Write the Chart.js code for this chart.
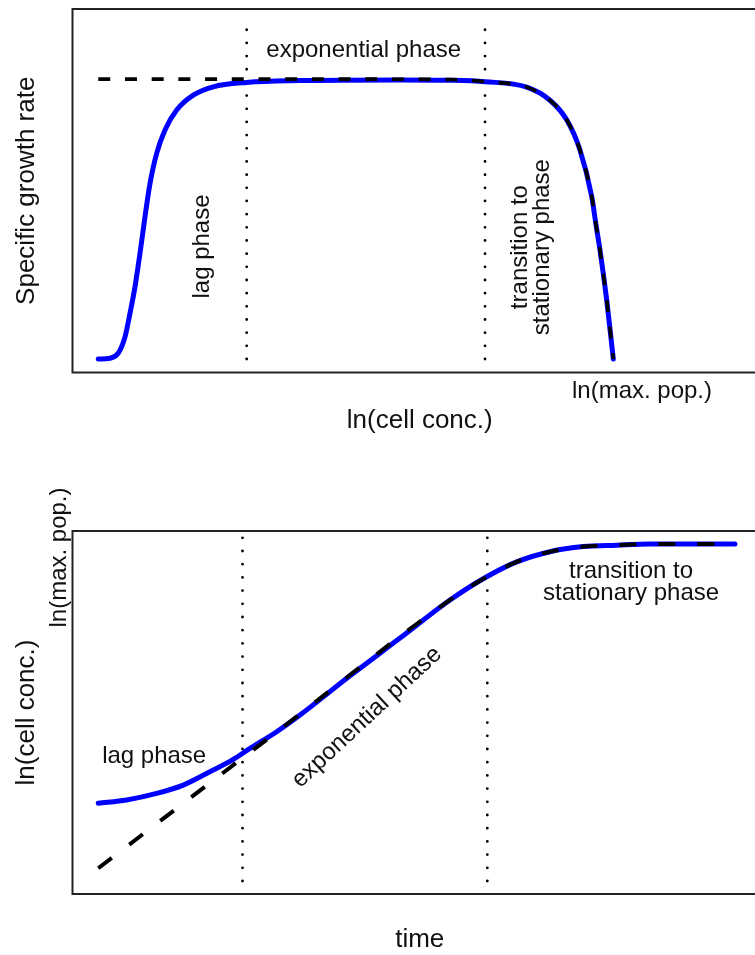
<!DOCTYPE html>
<html lang="en">
<head>
    <meta charset="UTF-8">
    <title>Bacterial growth phases</title>
    <style>
        body {
            margin: 0;
            background: white;
            overflow: hidden;
            font-family: "Liberation Sans", Arial, sans-serif;
        }
        #wrap {
            position: relative;
            width: 755px;
            height: 955px;
            overflow: hidden;
        }
        canvas {
            position: absolute;
            left: 0;
        }
        #rateChart { top: 0; }
        #concChart { top: 460px; }
    </style>
</head>
<body>
    <div id="wrap">
        <canvas id="rateChart" width="770" height="460"></canvas>
        <canvas id="concChart" width="770" height="495"></canvas>
    </div>

    <script src="https://cdn.jsdelivr.net/npm/chart.js"></script>
    <script>
        // top panel: specific growth rate vs ln(cell conc.), both axes in arbitrary units 0..100
        const rateX = [3.71, 5.40, 6.59, 7.56, 8.28, 9.00, 9.72, 10.44, 11.16, 12.12, 13.32, 15.00, 17.39, 20.27, 25.08, 32.76, 47.16, 54.36, 59.40, 65.40, 68.75, 71.16, 73.07, 74.76, 75.38, 75.95, 76.92, 77.87];
        const rateY = [3.7, 3.9, 5.3, 9.8, 16.3, 23.6, 32.8, 42.9, 52.0, 60.3, 66.7, 72.2, 76.3, 78.6, 79.8, 80.3, 80.5, 80.4, 80.0, 78.5, 74.9, 69.5, 61.2, 48.4, 40.6, 33.7, 19.9, 3.7];
        const rateModelX = [3.71, 20, 40, 54.36, 59.40, 65.40, 68.75, 71.16, 73.07, 74.76, 75.38, 75.95, 76.92, 77.87];
        const rateModelY = [80.7, 80.7, 80.7, 80.6, 80.0, 78.5, 74.9, 69.5, 61.2, 48.4, 40.6, 33.7, 19.9, 3.7];
        const rateBounds = [25.08, 59.40];
        const rateBoundY = [3.71, 97.9];

        // bottom panel: ln(cell conc.) vs time
        const concX = [3.71, 7.80, 12.12, 15.95, 19.80, 23.15, 25.56, 29.40, 32.76, 39.96, 47.16, 54.36, 59.64, 63.96, 68.75, 73.55, 78.36, 83.15, 87.95, 95.39];
        const concY = [25.0, 25.9, 27.7, 30.0, 33.7, 37.1, 40.1, 44.7, 49.3, 60.1, 70.5, 81.0, 87.4, 91.5, 94.3, 95.7, 96.1, 96.4, 96.4, 96.4];
        const concModelX = [3.71, 29.0, 54.36, 59.64, 63.96, 68.75, 73.55, 78.36, 83.15, 87.95, 95.39];
        const concModelY = [7.1, 44.05, 81.0, 87.4, 91.5, 94.3, 95.7, 96.1, 96.4, 96.4, 96.4];
        const concBounds = [24.48, 59.73];
        const concBoundY = [3.58, 98.15];

        const FONT = '"Liberation Sans", Arial, sans-serif';
        Chart.defaults.font.family = FONT;
        Chart.defaults.color = '#111';

        function pts(xs, ys) {
            return xs.map((x, i) => ({ x: x, y: ys[i] }));
        }

        // frame round the plot area + free text labels placed in data units
        function framePlugin(labels) {
            return {
                id: 'frame',
                beforeDatasetsDraw(chart) {
                    const a = chart.chartArea;
                    const ctx = chart.ctx;
                    ctx.save();
                    ctx.strokeStyle = '#222';
                    ctx.lineWidth = 2;
                    ctx.strokeRect(a.left, a.top, a.right - a.left, a.bottom - a.top);
                    ctx.restore();
                },
                afterDraw(chart) {
                    const ctx = chart.ctx;
                    const x = chart.scales.x, y = chart.scales.y;
                    labels.forEach(l => {
                        ctx.save();
                        ctx.translate(x.getPixelForValue(l.x), y.getPixelForValue(l.y));
                        ctx.rotate((l.rotate || 0) * Math.PI / 180);
                        ctx.font = '24px ' + FONT;
                        ctx.fillStyle = '#111';
                        ctx.textAlign = 'center';
                        ctx.textBaseline = l.baseline || 'alphabetic';
                        l.text.forEach((t, i) => ctx.fillText(t, 0, i * 22));
                        ctx.restore();
                    });
                }
            };
        }

        function boundLine(xv, ys, gap) {
            return {
                data: [{ x: xv, y: ys[0] }, { x: xv, y: ys[1] }],
                borderColor: '#000',
                borderWidth: 2.8,
                borderDash: [0, gap],
                borderCapStyle: 'round',
                pointRadius: 0,
                tension: 0,
                order: 2
            };
        }

        function makeChart(id, cfg) {
            return new Chart(document.getElementById(id), {
                type: 'line',
                data: {
                    datasets: [
                        {
                            data: pts(cfg.modelX, cfg.modelY),
                            borderColor: '#000',
                            borderWidth: cfg.dashWidth,
                            borderDash: cfg.dash,
                            pointRadius: 0,
                            cubicInterpolationMode: 'monotone',
                            order: 0
                        },
                        {
                            data: pts(cfg.curveX, cfg.curveY),
                            borderColor: '#0000ff',
                            borderWidth: 5,
                            borderCapStyle: 'round',
                            borderJoinStyle: 'round',
                            pointRadius: 0,
                            cubicInterpolationMode: 'monotone',
                            order: 1
                        },
                        boundLine(cfg.bounds[0], cfg.boundY, cfg.dotGap),
                        boundLine(cfg.bounds[1], cfg.boundY, cfg.dotGap)
                    ]
                },
                options: {
                    responsive: false,
                    animation: false,
                    events: [],
                    layout: { padding: { top: cfg.padTop, right: 3, left: 0, bottom: 0 } },
                    plugins: {
                        legend: { display: false },
                        tooltip: { enabled: false }
                    },
                    scales: {
                        x: {
                            type: 'linear',
                            min: 0,
                            max: 100,
                            grid: { display: false },
                            border: { display: false },
                            ticks: { display: false },
                            title: {
                                display: true,
                                text: cfg.xTitle,
                                font: { size: 26 },
                                padding: { top: 0, bottom: cfg.xTitlePad }
                            },
                            afterFit: s => { s.height = cfg.xHeight; }
                        },
                        y: {
                            min: 0,
                            max: 100,
                            grid: { display: false },
                            border: { display: false },
                            ticks: { display: false },
                            title: {
                                display: true,
                                text: cfg.yTitle,
                                font: { size: 26 },
                                padding: { top: 11.4, bottom: 0 }
                            },
                            afterFit: s => { s.width = 72.5; }
                        }
                    }
                },
                plugins: [framePlugin(cfg.labels)]
            });
        }

        makeChart('rateChart', {
            curveX: rateX, curveY: rateY,
            modelX: rateModelX, modelY: rateModelY,
            bounds: rateBounds, boundY: rateBoundY,
            dash: [12, 14.7], dashWidth: 3.6, dotGap: 13.17,
            padTop: 9, xHeight: 87.5, xTitlePad: 23.1,
            xTitle: 'ln(cell conc.)', yTitle: 'Specific growth rate',
            labels: [
                { text: ['exponential phase'], x: 41.93, y: 86.9 },
                { text: ['lag phase'], x: 19.65, y: 34.66, rotate: -90 },
                { text: ['transition to', 'stationary phase'], x: 65.44, y: 34.5, rotate: -90 },
                { text: ['ln(max. pop.)'], x: 82.0, y: -7.0 }
            ]
        });

        makeChart('concChart', {
            curveX: concX, curveY: concY,
            modelX: concModelX, modelY: concModelY,
            bounds: concBounds, boundY: concBoundY,
            dash: [17, 22], dashWidth: 4, dotGap: 13.2,
            padTop: 71, xHeight: 61, xTitlePad: 0,
            xTitle: 'time', yTitle: 'ln(cell conc.)',
            labels: [
                { text: ['lag phase'], x: 11.76, y: 36.17 },
                { text: ['exponential phase'], x: 42.4, y: 48.7, rotate: -43, baseline: 'middle' },
                { text: ['transition to', 'stationary phase'], x: 80.42, y: 86.97 },
                { text: ['ln(max. pop.)'], x: -0.94, y: 92.7, rotate: -90 }
            ]
        });
    </script>
</body>
</html>
